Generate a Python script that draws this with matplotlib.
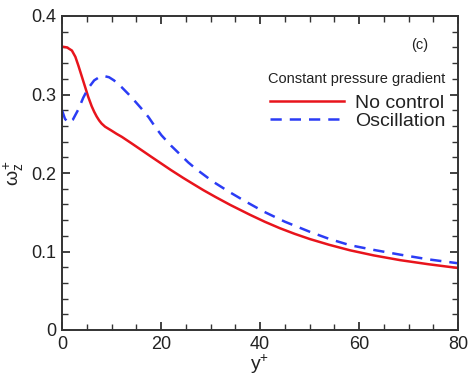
import numpy as np
import matplotlib
matplotlib.use('Agg')
import matplotlib.pyplot as plt
from matplotlib.ticker import MultipleLocator, FixedFormatter, FixedLocator

plt.rcParams['font.family'] = ['Liberation Sans', 'DejaVu Sans']
plt.rcParams['mathtext.fontset'] = 'custom'
plt.rcParams['mathtext.rm'] = 'Liberation Sans'
plt.rcParams['mathtext.it'] = 'Liberation Sans'

# Wall-normal vorticity fluctuation profiles, constant pressure gradient
y_no_control = [0, 1, 2, 2.7, 3.3, 4.0, 4.7, 5.3, 6.0, 6.5, 7.0, 7.5, 8.0, 8.7,
                10, 11, 12.1, 14, 16.1, 18, 20, 22, 24.5, 26.5, 28.6, 31, 34,
                38, 41, 44, 47, 50.1, 54, 58.2, 63, 68.3, 74, 80]
w_no_control = [0.361, 0.360, 0.356, 0.348, 0.337, 0.323, 0.309, 0.297, 0.285,
                0.278, 0.272, 0.267, 0.263, 0.259, 0.254, 0.250, 0.246, 0.238,
                0.229, 0.2208, 0.2123, 0.2038, 0.1937, 0.186, 0.178, 0.1695,
                0.1593, 0.1467, 0.1378, 0.1297, 0.1225, 0.1158, 0.1085, 0.1015,
                0.095, 0.089, 0.0838, 0.079]

y_oscillation = [0, 0.6, 1.3, 2.2, 3.3, 4.3, 5.3, 6.5, 7.5, 8.5, 9.5, 10.5,
                 12.1, 13.5, 14.8, 16.2, 17.5, 18.8, 20.1, 22, 23.8, 25.5, 27.2,
                 30.5, 33.9, 37, 40.7, 45, 50.1, 54, 58.2, 63, 68.3, 74, 80]
w_oscillation = [0.280, 0.269, 0.264, 0.268, 0.281, 0.296, 0.308, 0.318, 0.322,
                 0.3235, 0.322, 0.318, 0.309, 0.300, 0.291, 0.281, 0.271, 0.259,
                 0.248, 0.235, 0.224, 0.2135, 0.2045, 0.189, 0.1755, 0.164,
                 0.151, 0.138, 0.125, 0.116, 0.108, 0.102, 0.096, 0.090, 0.085]

fig = plt.figure(figsize=(4.68, 3.76), dpi=100)
ax = fig.add_axes([62 / 468, 46 / 376, 396 / 468, 314 / 376])

ax.plot(y_no_control, w_no_control, color='#e8141c', lw=1.8, label='No control')
ax.plot(y_oscillation, w_oscillation, color='#2b3cf5', lw=1.8,
        linestyle=(0, (4.5, 3.2)), label='Oscillation')

ax.set_xlim(0, 80)
ax.set_ylim(0, 0.4)
ax.xaxis.set_major_locator(MultipleLocator(20))
ax.xaxis.set_minor_locator(MultipleLocator(5))
ax.yaxis.set_major_locator(FixedLocator([0, 0.1, 0.2, 0.3, 0.4]))
ax.yaxis.set_major_formatter(FixedFormatter(['0', '0.1', '0.2', '0.3', '0.4']))
ax.yaxis.set_minor_locator(MultipleLocator(0.02))

for side in ax.spines.values():
    side.set_linewidth(1.4)
    side.set_color('#333333')
ax.tick_params(which='both', direction='in', top=True, right=True,
               colors='#333333', labelsize=13, labelcolor='#222222')
ax.tick_params(which='major', length=6, width=1.3, pad=4)
ax.tick_params(which='minor', length=4, width=1.0)

ax.set_xlabel(r'y$^{+}$', fontsize=14, labelpad=0, color='#222222')
ax.set_ylabel(r'$\omega_z^{+}$', fontsize=14, labelpad=4, color='#222222')

ax.text(0.924, 0.908, '(c)', transform=ax.transAxes, ha='right', va='center',
        fontsize=10.5, color='#222222')
ax.text(0.521, 0.80, 'Constant pressure gradient', transform=ax.transAxes,
        ha='left', va='center', fontsize=10.5, color='#222222')

leg = ax.legend(loc='upper left', bbox_to_anchor=(0.505, 0.775), frameon=False,
                fontsize=14, handlelength=3.8, handletextpad=0.6,
                labelspacing=0.0, borderaxespad=0)
for t in leg.get_texts():
    t.set_color('#222222')

fig.savefig('out.png', dpi=100)
